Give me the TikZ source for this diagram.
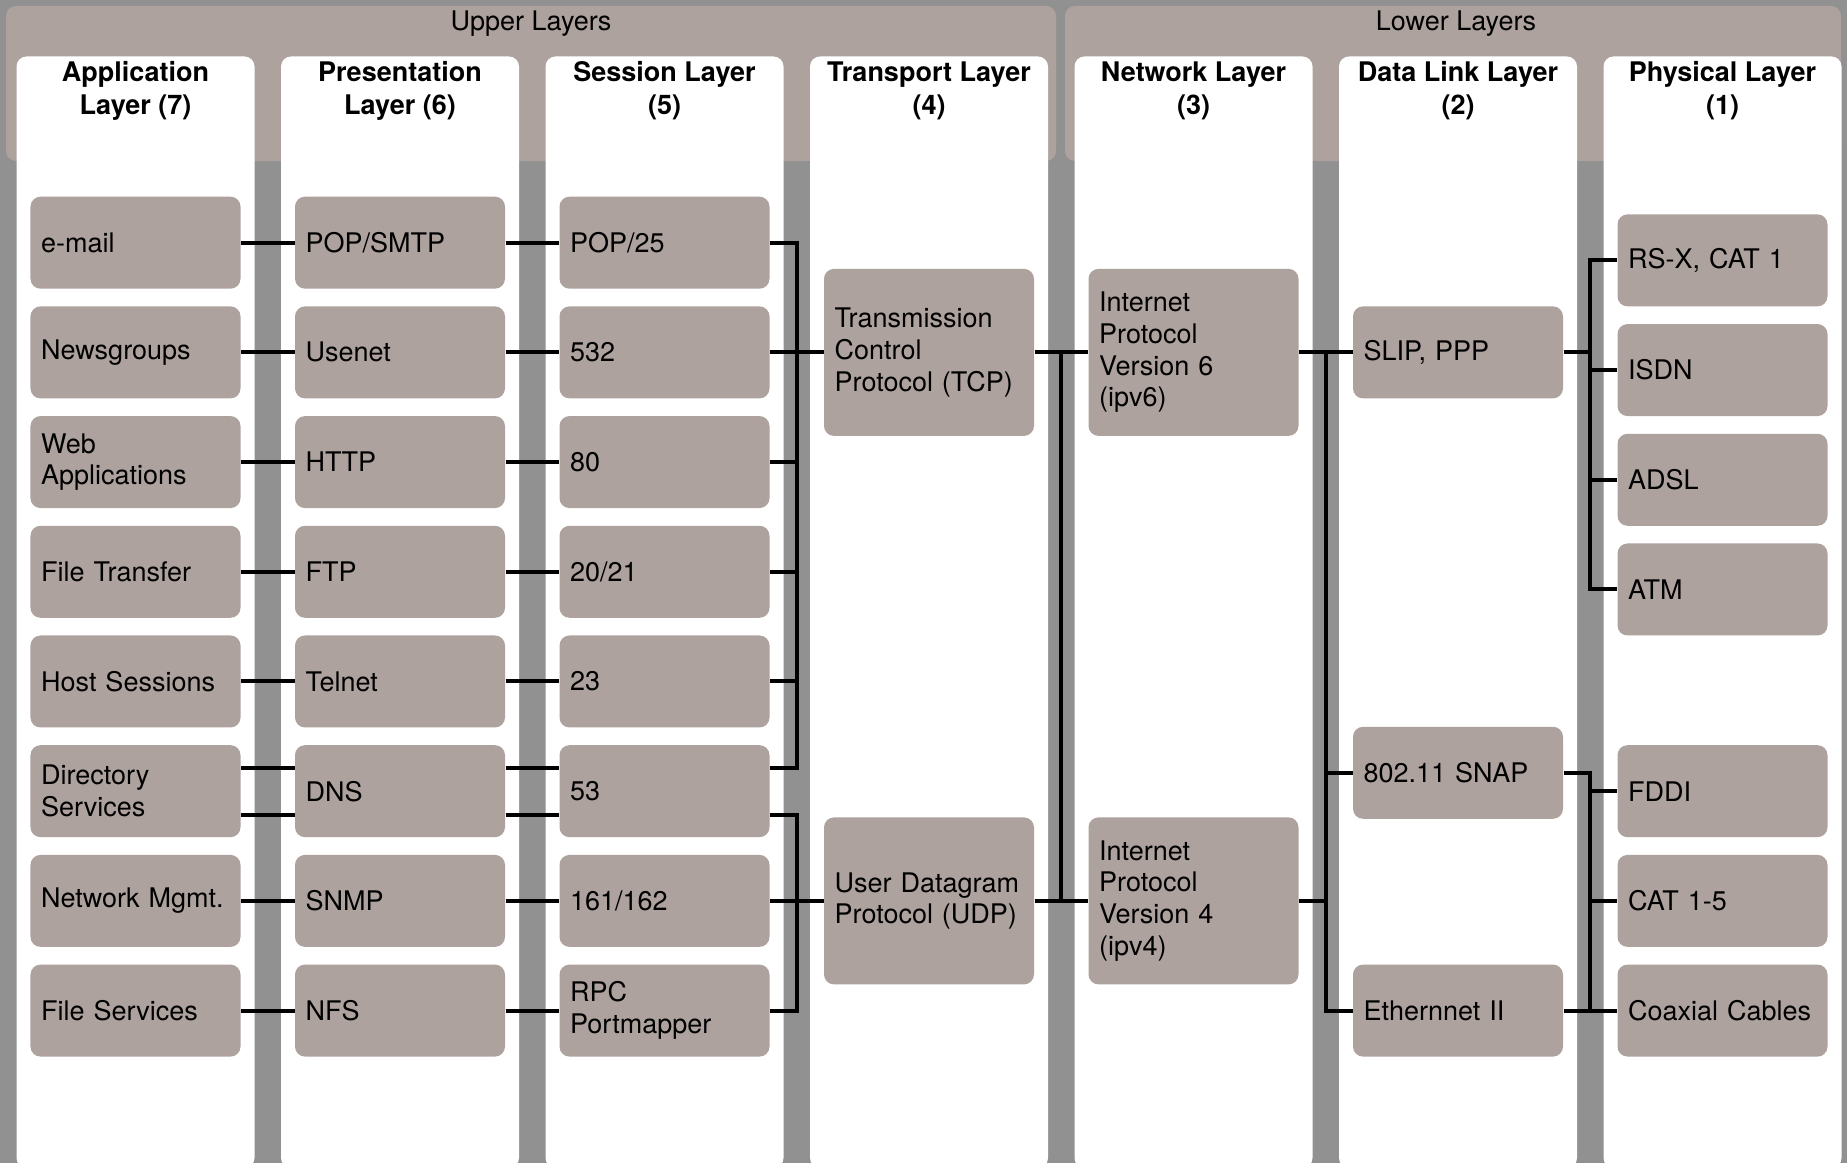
\documentclass[tikz,border=0pt]{standalone}
\usepackage{fontspec}
\setmainfont{TeX Gyre Heros}
\usepackage{xcolor}
\usepackage{tikz}
\usetikzlibrary{positioning, calc}
\definecolor{layergray}{HTML}{ADA29E}
\definecolor{backgray}{HTML}{919191}
\hyphenpenalty=10000
\exhyphenpenalty=10000

\tikzset{
  protobox/.style={fill=layergray, rounded corners=4pt, minimum width=84pt, minimum height=36.8pt,
    text width=75.5pt, inner xsep=4.25pt, inner ysep=2pt, align=left, font=\fontsize{10.8}{12.7}\selectfont},
  tallbox/.style={protobox, minimum height=66.8pt},
  layertitle/.style={font=\fontsize{10.8}{13.2}\selectfont\bfseries, align=center},
  bandlabel/.style={font=\fontsize{10.8}{13}\selectfont},
  link/.style={line width=1.6pt}
}

\begin{document}
\begin{tikzpicture}[x=0.4pt, y=-0.4pt]
  \useasboundingbox (0,0) rectangle (1847,1163);
  \fill[backgray] (0,0) rectangle (1847,1163);
  \clip (0,0) rectangle (1847,1163);

  % Upper and lower bands
  \fill[layergray, rounded corners=4pt] (6,6) rectangle (1056,161);
  \fill[layergray, rounded corners=4pt] (1065,6) rectangle (1841,161);
  \node[bandlabel] (upper) at (531,24) {Upper Layers};
  \node[bandlabel] (lower) at (1456,24) {Lower Layers};

  % Layer columns
  \foreach \col/\ta/\tb in {1/Application/Layer (7), 2/Presentation/Layer (6), 3/Session Layer/(5),
      4/Transport Layer/(4), 5/Network Layer/(3), 6/Data Link Layer/(2), 7/Physical Layer/(1)} {
    \pgfmathsetmacro{\colx}{16.5+(\col-1)*264.5}
    \fill[white, rounded corners=4pt] (\colx,56.5) rectangle (\colx+238,1168);
    \node[layertitle] (title\col) at (\colx+119,91) {\ta\\\tb};
  }

  % Application, presentation and session rows
  \foreach \i/\app/\pres/\ses [evaluate=\i as \y using 242.7+(\i-1)*109.7] in {
      1/e-mail/{POP/SMTP}/{POP/25}, 2/Newsgroups/Usenet/532, 3/Web Applications/HTTP/80,
      4/File Transfer/FTP/{20/21}, 5/Host Sessions/Telnet/23, 6/Directory Services/DNS/53,
      7/Network Mgmt./SNMP/{161/162}, 8/File Services/NFS/RPC Portmapper} {
    \node[protobox] (app\i) at (135.5,\y) {\app};
    \node[protobox] (pres\i) at (400,\y) {\pres};
    \node[protobox] (ses\i) at (664.5,\y) {\ses};
  }

  % Transport and network
  \node[tallbox] (tcp) at (929,352.4) {Transmission\\Control\\Protocol (TCP)};
  \node[tallbox] (udp) at (929,900.9) {User Datagram\\Protocol (UDP)};
  \node[tallbox] (ipv6) at (1193.5,352.4) {Internet\\Protocol\\Version 6\\(ipv6)};
  \node[tallbox] (ipv4) at (1193.5,900.9) {Internet\\Protocol\\Version 4\\(ipv4)};

  % Data link
  \node[protobox] (slip) at (1458,352.4) {SLIP, PPP};
  \node[protobox] (snap) at (1458,772.8) {802.11 SNAP};
  \node[protobox] (eth) at (1458,1010.6) {Ethernnet II};

  % Physical
  \foreach \i/\medium/\y in {1/{RS-X, CAT 1}/260.4, 2/ISDN/370.1, 3/ADSL/479.8, 4/ATM/589.5,
      5/FDDI/791.2, 6/CAT 1-5/900.9, 7/Coaxial Cables/1010.6} {
    \node[protobox] (phy\i) at (1722.5,\y) {\medium};
  }

  % Row links
  \foreach \i in {1,2,3,4,5,7,8} {
    \draw[link] (app\i) -- (pres\i);
    \draw[link] (pres\i) -- (ses\i);
  }
  \foreach \dy in {9.4pt,-9.4pt} {
    \draw[link] ([yshift=\dy]app6.east) -- ([yshift=\dy]pres6.west);
    \draw[link] ([yshift=\dy]pres6.east) -- ([yshift=\dy]ses6.west);
  }

  % Buses between the columns
  \coordinate (busA) at (797,0);
  \coordinate (busB) at (1061,0);
  \coordinate (busC) at (1326,0);
  \coordinate (busD) at (1590,0);
  \coordinate (ses6up) at ([yshift=9.4pt]ses6.east);
  \coordinate (ses6dn) at ([yshift=-9.4pt]ses6.east);

  \draw[link] (ses1.east) -- (ses1.east -| busA) -- (ses6up -| busA) -- (ses6up);
  \foreach \i in {2,3,4,5}
    \draw[link] (ses\i.east) -- (ses\i.east -| busA);
  \draw[link] (tcp.west -| busA) -- (tcp.west);
  \draw[link] (ses6dn) -- (ses6dn -| busA) -- (ses8.east -| busA) -- (ses8.east);
  \draw[link] (ses7.east) -- (ses7.east -| busA);
  \draw[link] (udp.west -| busA) -- (udp.west);

  \draw[link] (tcp) -- (ipv6);
  \draw[link] (udp) -- (ipv4);
  \draw[link] (tcp.east -| busB) -- (udp.east -| busB);

  \draw[link] (ipv6) -- (slip);
  \draw[link] (slip.west -| busC) -- (eth.west -| busC) -- (eth.west);
  \draw[link] (snap.west -| busC) -- (snap.west);
  \draw[link] (ipv4.east) -- (ipv4.east -| busC);

  \draw[link] (phy1.west) -- (phy1.west -| busD) -- (phy4.west -| busD) -- (phy4.west);
  \foreach \i in {2,3}
    \draw[link] (phy\i.west -| busD) -- (phy\i.west);
  \draw[link] (slip.east) -- (slip.east -| busD);
  \draw[link] (snap.east) -- (snap.east -| busD) -- (phy7.west -| busD) -- (phy7.west);
  \draw[link] (eth) -- (phy7);
  \foreach \i in {5,6}
    \draw[link] (phy\i.west -| busD) -- (phy\i.west);
\end{tikzpicture}
\end{document}
